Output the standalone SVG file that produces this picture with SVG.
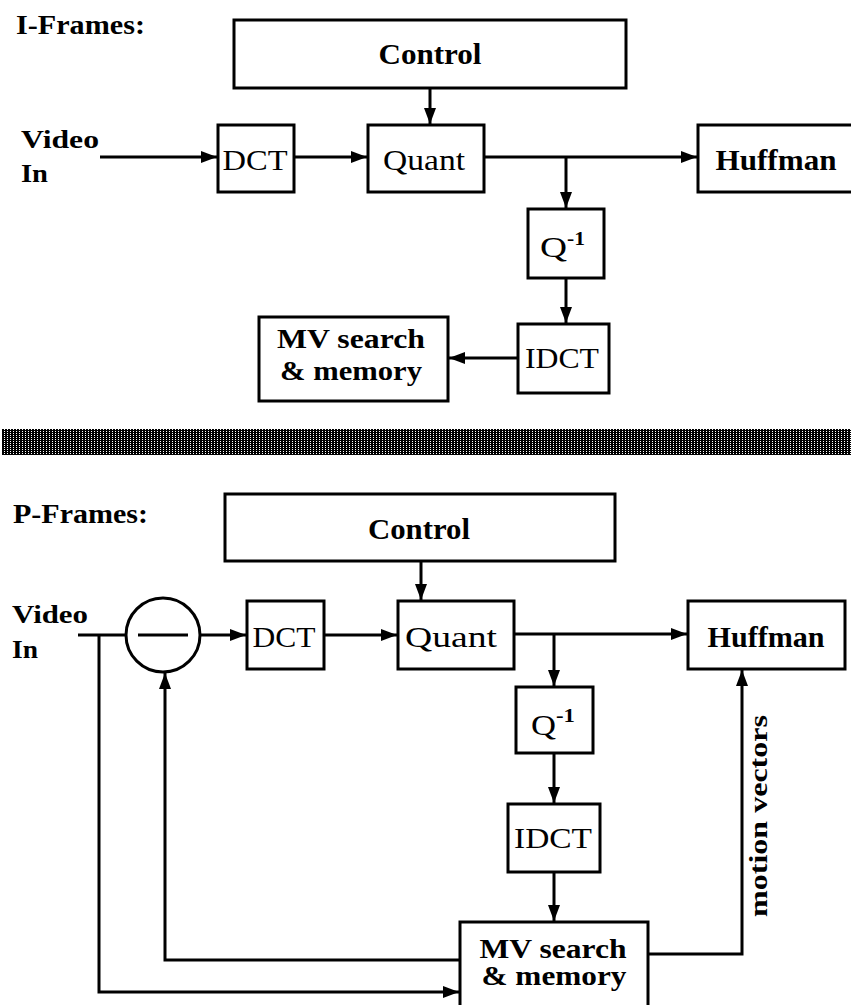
<svg xmlns="http://www.w3.org/2000/svg" width="851" height="1005" viewBox="0 0 851 1005">
<style>
.box{fill:#fff;stroke:#000;stroke-width:3}
.ln{fill:none;stroke:#000;stroke-width:3}
.t{font-family:"Liberation Serif","Times New Roman",serif;fill:#000}
.b{font-weight:bold}
.c{text-anchor:middle}
</style>
<defs>
<marker id="ah" viewBox="0 0 16 12" refX="16" refY="6" markerWidth="16" markerHeight="12" markerUnits="userSpaceOnUse" orient="auto">
<path d="M0,0 L16,6 L0,12 Z" fill="#000"/>
</marker>
<pattern id="dith" width="3" height="2" patternUnits="userSpaceOnUse">
<rect width="3" height="2" fill="#000"/>
<rect x="1" y="1" width="1" height="1" fill="#fff"/>
</pattern>
</defs>
<rect width="851" height="1005" fill="#fff"/>

<!-- I-Frames section -->
<text class="t b" x="16" y="34" font-size="28" textLength="129" lengthAdjust="spacingAndGlyphs">I-Frames:</text>
<g id="i-video-in">
<text class="t b" x="21" y="148" font-size="25" textLength="78" lengthAdjust="spacingAndGlyphs">Video</text>
<text class="t b" x="21" y="182" font-size="25" textLength="27" lengthAdjust="spacingAndGlyphs">In</text>
</g>

<g id="i-connectors">
<line class="ln" x1="430" y1="88" x2="430" y2="124" marker-end="url(#ah)"/>
<line class="ln" x1="100" y1="157" x2="217" y2="157" marker-end="url(#ah)"/>
<line class="ln" x1="294" y1="157" x2="367" y2="157" marker-end="url(#ah)"/>
<line class="ln" x1="484" y1="157" x2="697" y2="157" marker-end="url(#ah)"/>
<line class="ln" x1="566" y1="157" x2="566" y2="208" marker-end="url(#ah)"/>
<line class="ln" x1="566" y1="278" x2="566" y2="323" marker-end="url(#ah)"/>
<line class="ln" x1="518" y1="358" x2="449" y2="358" marker-end="url(#ah)"/>
</g>

<g id="i-control">
<rect class="box" x="234" y="20" width="392" height="68"/>
<text class="t b c" x="430" y="64" font-size="30" textLength="103" lengthAdjust="spacingAndGlyphs">Control</text>
</g>
<g id="i-dct">
<rect class="box" x="218" y="125" width="76" height="67"/>
<text class="t c" x="255" y="170" font-size="30" textLength="65" lengthAdjust="spacingAndGlyphs">DCT</text>
</g>
<g id="i-quant">
<rect class="box" x="368" y="125" width="116" height="67"/>
<text class="t c" x="424" y="170" font-size="30" textLength="82" lengthAdjust="spacingAndGlyphs">Quant</text>
</g>
<g id="i-huffman">
<rect class="box" x="698" y="125" width="156" height="67"/>
<text class="t b c" x="776" y="170" font-size="30" textLength="121" lengthAdjust="spacingAndGlyphs">Huffman</text>
</g>
<g id="i-qinv">
<rect class="box" x="528" y="209" width="76" height="69"/>
<text class="t" x="540" y="257" font-size="30" textLength="27" lengthAdjust="spacingAndGlyphs">Q</text>
<text class="t b" x="567" y="245" font-size="19" textLength="18" lengthAdjust="spacingAndGlyphs">-1</text>
</g>
<g id="i-idct">
<rect class="box" x="518" y="324" width="91" height="69"/>
<text class="t c" x="562" y="368" font-size="30" textLength="74" lengthAdjust="spacingAndGlyphs">IDCT</text>
</g>
<g id="i-mv">
<rect class="box" x="259" y="317" width="189" height="84"/>
<text class="t b c" x="351" y="348" font-size="27" textLength="148" lengthAdjust="spacingAndGlyphs">MV search</text>
<text class="t b c" x="351" y="380" font-size="27" textLength="142" lengthAdjust="spacingAndGlyphs">&amp; memory</text>
</g>

<!-- separator band -->
<rect id="separator" x="2" y="429" width="849" height="26" fill="url(#dith)"/>

<!-- P-Frames section -->
<text class="t b" x="13" y="523" font-size="28" textLength="135" lengthAdjust="spacingAndGlyphs">P-Frames:</text>
<g id="p-video-in">
<text class="t b" x="12" y="623" font-size="25" textLength="76" lengthAdjust="spacingAndGlyphs">Video</text>
<text class="t b" x="12" y="658" font-size="25" textLength="26" lengthAdjust="spacingAndGlyphs">In</text>
</g>

<g id="p-connectors">
<line class="ln" x1="78" y1="635" x2="126" y2="635"/>
<line class="ln" x1="421" y1="561" x2="421" y2="600" marker-end="url(#ah)"/>
<line class="ln" x1="200" y1="635" x2="246" y2="635" marker-end="url(#ah)"/>
<line class="ln" x1="324" y1="635" x2="397" y2="635" marker-end="url(#ah)"/>
<line class="ln" x1="514" y1="634" x2="687" y2="634" marker-end="url(#ah)"/>
<line class="ln" x1="554" y1="634" x2="554" y2="686" marker-end="url(#ah)"/>
<line class="ln" x1="554" y1="753" x2="554" y2="803" marker-end="url(#ah)"/>
<line class="ln" x1="554" y1="872" x2="554" y2="921" marker-end="url(#ah)"/>
<path class="ln" d="M99,635 V992 H459" marker-end="url(#ah)"/>
<path class="ln" d="M461,960 H165 V673" marker-end="url(#ah)"/>
<path class="ln" d="M648,954 H742 V670" marker-end="url(#ah)"/>
<text class="t b" transform="translate(767,816) rotate(-90)" text-anchor="middle" font-size="26" textLength="202" lengthAdjust="spacingAndGlyphs">motion vectors</text>
</g>

<g id="p-subtract">
<circle cx="163" cy="635" r="37" fill="#fff" stroke="#000" stroke-width="3"/>
<line x1="138" y1="635" x2="188" y2="635" stroke="#000" stroke-width="3"/>
</g>
<g id="p-control">
<rect class="box" x="225" y="494" width="390" height="67"/>
<text class="t b c" x="419" y="539" font-size="30" textLength="102" lengthAdjust="spacingAndGlyphs">Control</text>
</g>
<g id="p-dct">
<rect class="box" x="247" y="601" width="77" height="68"/>
<text class="t c" x="284" y="647" font-size="30" textLength="63" lengthAdjust="spacingAndGlyphs">DCT</text>
</g>
<g id="p-quant">
<rect class="box" x="398" y="601" width="116" height="68"/>
<text class="t c" x="451" y="647" font-size="30" textLength="92" lengthAdjust="spacingAndGlyphs">Quant</text>
</g>
<g id="p-huffman">
<rect class="box" x="688" y="601" width="157" height="68"/>
<text class="t b c" x="766" y="647" font-size="30" textLength="117" lengthAdjust="spacingAndGlyphs">Huffman</text>
</g>
<g id="p-qinv">
<rect class="box" x="516" y="687" width="77" height="66"/>
<text class="t" x="531" y="735" font-size="30" textLength="25" lengthAdjust="spacingAndGlyphs">Q</text>
<text class="t b" x="556" y="722" font-size="19" textLength="19" lengthAdjust="spacingAndGlyphs">-1</text>
</g>
<g id="p-idct">
<rect class="box" x="508" y="804" width="92" height="68"/>
<text class="t c" x="553" y="848" font-size="30" textLength="78" lengthAdjust="spacingAndGlyphs">IDCT</text>
</g>
<g id="p-mv">
<rect class="box" x="460" y="922" width="188" height="90"/>
<text class="t b c" x="553" y="958" font-size="27" textLength="147" lengthAdjust="spacingAndGlyphs">MV search</text>
<text class="t b c" x="554" y="985" font-size="27" textLength="145" lengthAdjust="spacingAndGlyphs">&amp; memory</text>
</g>
</svg>
